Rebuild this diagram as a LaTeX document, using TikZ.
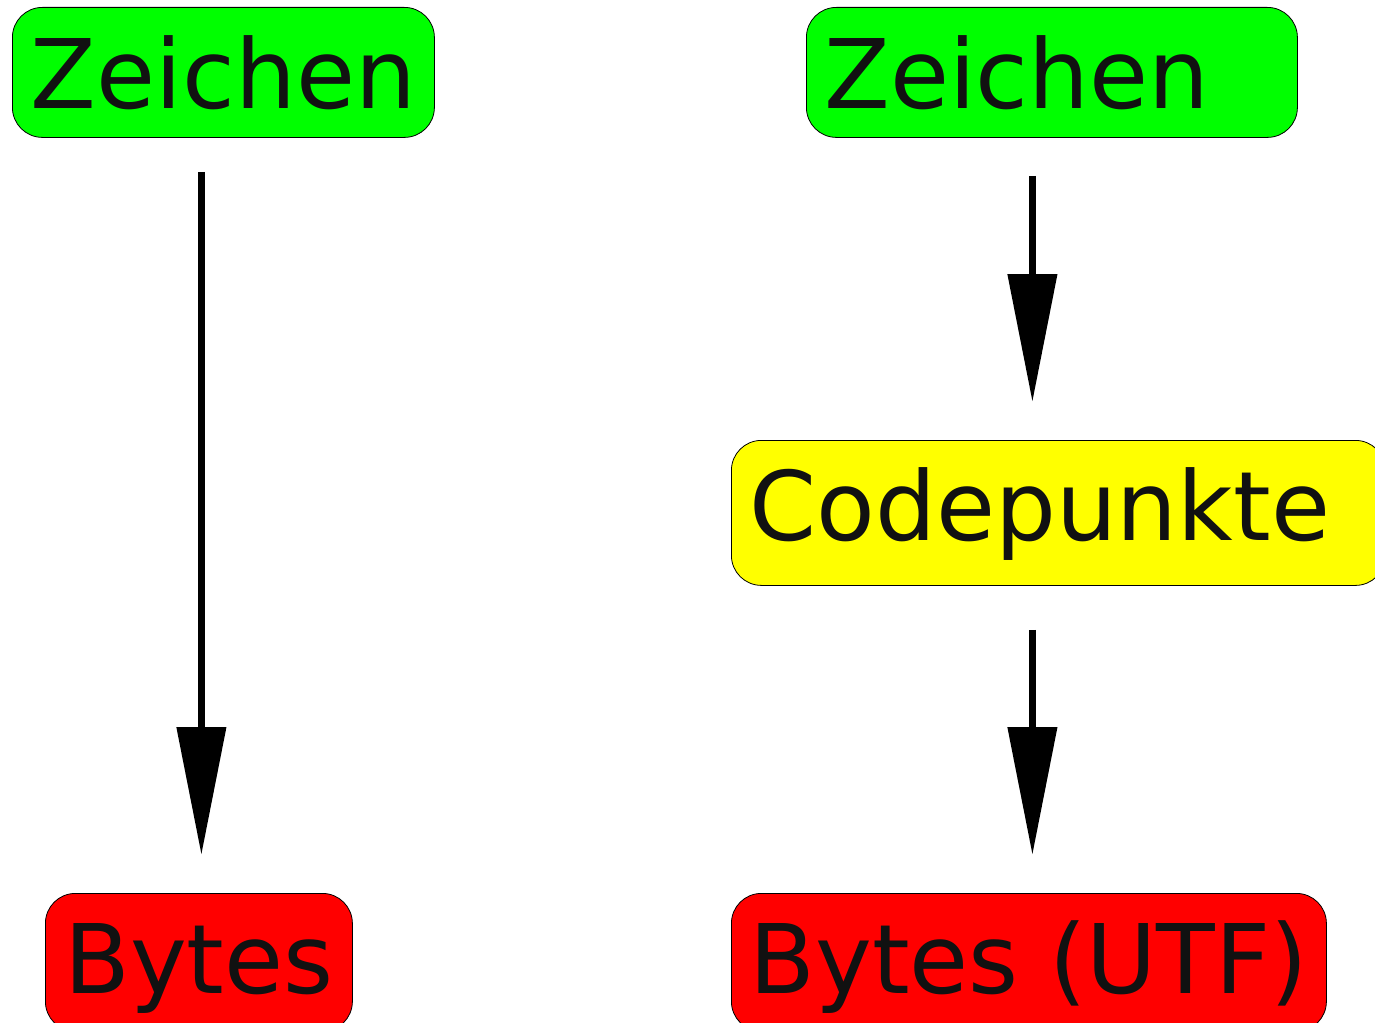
\documentclass[tikz,border=0pt]{standalone}
\usepackage{fontspec}
\setmainfont{DejaVu Sans}
\usetikzlibrary{arrows.meta}
\definecolor{txt}{HTML}{111111}
\definecolor{gfill}{HTML}{00FF00}
\definecolor{yfill}{HTML}{FFFF00}
\definecolor{rfill}{HTML}{FF0000}
\begin{document}
\begin{tikzpicture}[x=1pt,y=-1pt,
  box/.style={draw=black, line width=0.8pt, rounded corners=30pt, inner ysep=0pt,
    font=\fontsize{96}{110}\selectfont, text=txt, anchor=north west},
  lbox/.style={box, align=left, inner xsep=18pt},
  cbox/.style={box, align=center, inner xsep=0pt},
  arr/.style={line width=7.5pt, -{Triangle[length=128pt,width=48pt]}}]
\useasboundingbox (0,0) rectangle (1375,1022);
\begin{scope}
\clip (0,0) rectangle (1375,1022);
\node[cbox, fill=gfill, minimum width=422pt, text height=101pt, text depth=29pt] (zl) at (12,7) {Zeichen};
\node[lbox, fill=gfill, text width=455pt, text height=101pt, text depth=29pt] (zr) at (806,7) {Zeichen};
\node[lbox, fill=yfill, text width=618pt, text height=100pt, text depth=45pt] (cp) at (731,440) {Codepunkte};
\node[cbox, fill=rfill, minimum width=307pt, text height=100pt, text depth=38pt] (bl) at (45,893) {Bytes};
\node[cbox, fill=rfill, minimum width=595pt, text height=100pt, text depth=38pt] (br) at (731,893) {Bytes (UTF)};
\end{scope}
\draw[arr, shorten <=34pt, shorten >=38pt] ([xshift=-22pt]zl.south) -- ([xshift=2.5pt]bl.north);
\draw[arr, shorten <=38pt, shorten >=38pt] ([xshift=-19.5pt]zr.south) -- ([xshift=-26pt]cp.north);
\draw[arr, shorten <=44pt, shorten >=38pt] ([xshift=-26pt]cp.south) -- ([xshift=3.5pt]br.north);
\end{tikzpicture}
\end{document}
